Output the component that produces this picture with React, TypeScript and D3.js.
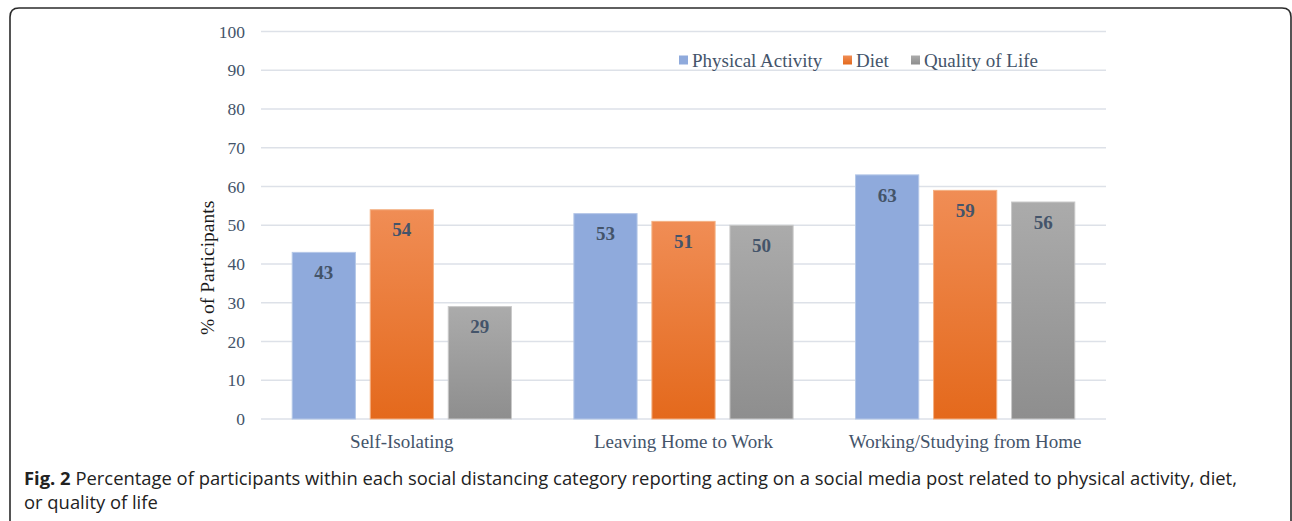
import React from 'react';
import * as d3 from 'd3';

const categories = ['Self-Isolating', 'Leaving Home to Work', 'Working/Studying from Home'];
const seriesNames = ['Physical Activity', 'Diet', 'Quality of Life'];
const physicalActivity = [43, 53, 63];
const diet = [54, 51, 59];
const qualityOfLife = [29, 50, 56];
const yTicks = [0, 10, 20, 30, 40, 50, 60, 70, 80, 90, 100];

const seriesValues = [physicalActivity, diet, qualityOfLife];
// top/bottom colours of each bar's gradient, plus its edge
const fills = [
  { top: '#8FAADC', bottom: '#8FAADC', edge: '#B4C7E7' },
  { top: '#F08D55', bottom: '#E4691C', edge: '#F4B183' },
  { top: '#ABABAB', bottom: '#8E8E8E', edge: '#C9C9C9' },
];

const W = 1292;
const H = 521;
const margin = { top: 31.5, right: 186, bottom: 102, left: 261 };
const serif = '"Liberation Serif", "Times New Roman", serif';
const textColor = '#44546A';

export default function App() {
  const innerW = W - margin.left - margin.right;
  const innerH = H - margin.top - margin.bottom;

  const x0 = d3.scaleBand().domain(categories).range([0, innerW]).paddingInner(0).paddingOuter(0);
  const x1 = d3.scaleBand().domain(seriesNames).range([0, x0.bandwidth()]).paddingInner(0.19).paddingOuter(0.4);
  const y = d3.scaleLinear().domain([0, 100]).range([innerH, 0]);

  return (
    <svg width={W} height={H} style={{ position: 'absolute', left: 0, top: 0 }}>
      <defs>
        {fills.map((f, i) => (
          <linearGradient key={i} id={`grad${i}`} x1="0" y1="0" x2="0" y2="1">
            <stop offset="0%" stopColor={f.top} />
            <stop offset="100%" stopColor={f.bottom} />
          </linearGradient>
        ))}
      </defs>
      <rect x={0} y={0} width={W} height={H} fill="#fff" />
      {/* figure frame */}
      <path
        d={`M10,${H + 4} L10,17 Q10,8 19,8 L${W - 10},8 Q${W - 1},8 ${W - 1},17 L${W - 1},${H + 4}`}
        fill="none"
        stroke="#2b2b2b"
        strokeWidth={1.6}
      />
      <g transform={`translate(${margin.left},${margin.top})`}>
        {yTicks.map((t) => (
          <g key={t}>
            <line x1={0} x2={innerW} y1={y(t)} y2={y(t)} stroke="#DDE1E8" strokeWidth={1.3} />
            <text
              x={-16}
              y={y(t)}
              dy="0.35em"
              textAnchor="end"
              fontFamily={serif}
              fontSize={17.5}
              fill={textColor}
            >
              {t}
            </text>
          </g>
        ))}
        {categories.map((c, ci) => (
          <g key={c} transform={`translate(${x0(c)},0)`}>
            {seriesNames.map((s, si) => {
              const v = seriesValues[si][ci];
              const bx = x1(s)!;
              return (
                <g key={s}>
                  <rect
                    x={bx}
                    y={y(v)}
                    width={x1.bandwidth()}
                    height={innerH - y(v)}
                    fill={`url(#grad${si})`}
                    stroke={fills[si].edge}
                    strokeWidth={1}
                  />
                  <text
                    x={bx + x1.bandwidth() / 2}
                    y={y(v) + 20}
                    dy="0.35em"
                    textAnchor="middle"
                    fontFamily={serif}
                    fontWeight="bold"
                    fontSize={19}
                    fill={textColor}
                  >
                    {v}
                  </text>
                </g>
              );
            })}
            <text
              x={x0.bandwidth() / 2}
              y={innerH + 22}
              dy="0.35em"
              textAnchor="middle"
              fontFamily={serif}
              fontSize={19}
              fill={textColor}
            >
              {c}
            </text>
          </g>
        ))}
        <text
          transform={`translate(${-54},${y(39)}) rotate(-90)`}
          textAnchor="middle"
          dy="0.35em"
          fontFamily={serif}
          fontSize={19.5}
          fill="#1a1a1a"
        >
          % of Participants
        </text>
      </g>
      {/* legend */}
      <g fontFamily={serif} fontSize={19} fill={textColor}>
        {[679, 843, 911].map((lx, i) => (
          <g key={i} transform={`translate(${lx},60)`}>
            <rect x={0} y={-4.5} width={9} height={9} fill={`url(#grad${i})`} />
            <text x={13} dy="0.35em">{seriesNames[i]}</text>
          </g>
        ))}
      </g>
      {/* caption */}
      <g fontFamily='"Open Sans", "Noto Sans", sans-serif' fontSize={18.4} fill="#222">
        <text x={24} y={485}>
          <tspan fontWeight="bold">Fig. 2</tspan>
          <tspan> Percentage of participants within each social distancing category reporting acting on a social media post related to physical activity, diet,</tspan>
        </text>
        <text x={24} y={509}>or quality of life</text>
      </g>
    </svg>
  );
}
